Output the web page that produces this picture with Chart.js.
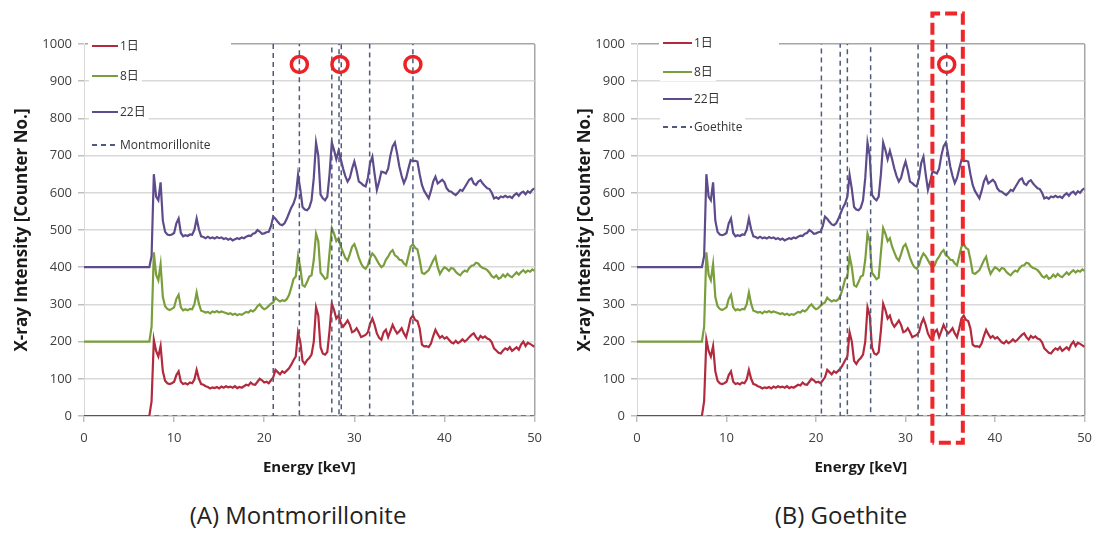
<!DOCTYPE html>
<html>
<head>
<meta charset="utf-8">
<script src="https://cdn.jsdelivr.net/npm/chart.js@4.4.1/dist/chart.umd.min.js"></script>
<style>
  html, body { margin: 0; padding: 0; background: #fff; }
  body { width: 1100px; height: 534px; position: relative; overflow: hidden; }
  canvas { position: absolute; top: 0; }
  #chartA { left: 0; }
  #chartB { left: 553px; }
  .caption {
    position: absolute; top: 498px; width: 400px; text-align: center;
    font-family: "Open Sans", sans-serif; font-size: 24px; line-height: 34px; color: #222;
  }
</style>
</head>
<body>
<canvas id="chartA" width="550" height="490"></canvas>
<canvas id="chartB" width="547" height="490"></canvas>
<div class="caption" style="left: 98px;">(A) Montmorillonite</div>
<div class="caption" style="left: 641px;">(B) Goethite</div>
<script>
// energy channels (keV)
const energy = [
  0, 7.25, 7.5, 7.75,
  8, 8.25, 8.5, 8.75,   9, 9.25, 9.5, 9.75,   10, 10.25, 10.5, 10.75,
  11, 11.25, 11.5, 11.75,   12, 12.25, 12.5, 12.75,   13, 13.25, 13.5, 13.75,
  14, 14.25, 14.5, 14.75,   15, 15.25, 15.5, 15.75,   16, 16.25, 16.5, 16.75,
  17, 17.25, 17.5, 17.75,   18, 18.25, 18.5, 18.75,   19, 19.25, 19.5, 19.75,
  20, 20.25, 20.5, 20.75,   21, 21.25, 21.5, 21.75,   22, 22.25, 22.5, 22.75,
  23, 23.25, 23.5, 23.75,   24, 24.25, 24.5, 24.75,   25, 25.25, 25.5, 25.75,
  26, 26.25, 26.5, 26.75,   27, 27.25, 27.5, 27.75,   28, 28.25, 28.5, 28.75,
  29, 29.25, 29.5, 29.75,   30, 30.25, 30.5, 30.75,   31, 31.25, 31.5, 31.75,
  32, 32.25, 32.5, 32.75,   33, 33.25, 33.5, 33.75,   34, 34.25, 34.5, 34.75,
  35, 35.25, 35.5, 35.75,   36, 36.25, 36.5, 36.75,   37, 37.25, 37.5, 37.75,
  38, 38.25, 38.5, 38.75,   39, 39.25, 39.5, 39.75,   40, 40.25, 40.5, 40.75,
  41, 41.25, 41.5, 41.75,   42, 42.25, 42.5, 42.75,   43, 43.25, 43.5, 43.75,
  44, 44.25, 44.5, 44.75,   45, 45.25, 45.5, 45.75,   46, 46.25, 46.5, 46.75,
  47, 47.25, 47.5, 47.75,   48, 48.25, 48.5, 48.75,   49, 49.25, 49.5, 49.75,
  50
];

// counts, 1 day
const day1 = [
  0, 0, 40, 205,
  175, 160, 188, 120,   95, 88, 86, 88,   92, 110, 120, 92,
  86, 88, 85, 90,   88, 98, 124, 100,   86, 84, 80, 78,
  74, 77, 75, 78,   74, 79, 76, 80,   77, 79, 76, 80,
  75, 78, 76, 80,   84, 82, 90, 85,   84, 92, 100, 96,
  90, 92, 88, 96,   104, 124, 118, 112,   120, 116, 122, 128,
  138, 150, 160, 225,   200, 148, 140, 150,   156, 165, 200, 292,
  270, 185, 168, 165,   172, 230, 302, 285,   262, 270, 250, 240,
  248, 257, 245, 225,   228, 236, 225, 212,   215, 218, 225, 248,
  262, 245, 222, 210,   205, 225, 232, 212,   228, 245, 232, 222,
  228, 236, 222, 212,   235, 262, 270, 258,   255, 235, 192, 187,
  188, 185, 195, 215,   232, 220, 210, 215,   208, 212, 205, 198,
  195, 202, 196, 200,   206, 200, 205, 212,   218, 222, 212, 205,
  215, 210, 214, 208,   206, 198, 182, 176,   170, 168, 176, 182,
  178, 185, 175, 180,   185, 178, 192, 200,   188, 197, 194, 190,
  186
];

// counts, 8 days
const day8 = [
  200, 200, 240, 440,
  380, 365, 408, 320,   295, 288, 285, 288,   292, 315, 326, 292,
  284, 287, 284, 288,   287, 300, 332, 302,   283, 281, 278, 280,
  276, 281, 279, 282,   278, 281, 279, 277,   274, 276, 272, 275,
  271, 274, 272, 276,   280, 278, 284, 281,   286, 295, 300, 292,
  287, 290, 296, 302,   305, 318, 312, 308,   311, 309, 314, 325,
  345, 368, 375, 430,   400, 352, 348, 360,   375, 378, 420, 490,
  470, 385, 377, 368,   372, 440, 505, 490,   470, 478, 455, 440,
  425, 418, 435, 455,   462, 445, 425, 410,   400, 396, 405, 425,
  437, 430, 419, 408,   400, 405, 420, 428,   440, 446, 432, 428,
  420, 419, 410, 405,   430, 455, 462, 452,   448, 420, 385, 382,
  387, 392, 405, 418,   428, 400, 382, 392,   400, 396, 390, 398,
  396, 388, 382, 378,   386, 391, 388, 398,   404, 405, 412, 410,
  402, 398, 396, 392,   385, 376, 372, 378,   369, 372, 380, 374,
  382, 376, 373, 380,   386, 380, 387, 392,   386, 391, 388, 394,
  390
];

// counts, 22 days
const day22 = [
  400, 400, 430, 650,
  590, 580, 628, 525,   495, 488, 486, 488,   492, 518, 531, 492,
  483, 486, 484, 488,   487, 500, 531, 502,   483, 481, 478, 482,
  478, 480, 477, 481,   478, 480, 476, 478,   474, 477, 472, 475,
  478, 476, 480, 478,   482, 485, 484, 490,   492, 500, 496, 490,
  491, 494, 495, 510,   536, 530, 522, 515,   513, 518, 530, 545,
  560, 571, 590, 648,   610, 562, 555, 553,   560, 580, 640, 735,
  700, 595, 585, 580,   590, 650, 735, 715,   690, 713, 690, 665,
  645, 630, 640, 665,   684, 660, 630, 626,   620, 617, 640, 680,
  697, 650, 608, 630,   657, 655, 652, 665,   700, 725, 735, 705,
  670, 645, 626, 640,   665, 688, 685, 686,   684, 650, 621, 605,
  595, 585, 605, 630,   643, 625, 630, 635,   628, 612, 605, 603,
  598, 594, 600, 608,   605, 615, 625, 635,   639, 625, 621, 630,
  634, 625, 618, 612,   610, 600, 585, 588,   584, 590, 588, 592,
  588, 590, 586, 594,   599, 592, 600, 603,   596, 604, 600, 608,
  612
];

// reference peak positions (keV)
const montmorilloniteLines = [21.0, 23.9, 27.5, 28.3, 28.55, 31.7, 36.5];
const goethiteLines = [20.6, 22.7, 23.5, 26.1, 31.4, 34.6];
const stickStart = 7.8;
const stickTop = 1000;

// red circle marks
const montmorilloniteMarks = [23.9, 28.4, 36.5];
const goethiteMarks = [34.6];
const markLevel = 945;

// red dashed box on goethite panel
const boxFrom = 33.0, boxTo = 36.4, boxLow = -72, boxHigh = 1082;

const seriesLabels = ['1日', '8日', '22日'];
const seriesColors = ['#b22a3e', '#7a9e3c', '#5e4b8b'];
const FONT = '"Open Sans", "Noto Sans CJK JP", sans-serif';

const toPoints = ys => energy.map((x, i) => ({ x: x, y: ys[i] }));

function stickPoints(lines) {
  const pts = [{ x: stickStart, y: 0 }];
  lines.forEach(e => {
    pts.push({ x: e, y: 0 }, { x: e, y: stickTop }, { x: e, y: null }, { x: e, y: 0 });
  });
  pts.push({ x: 50, y: 0 });
  return pts;
}

const insideLegend = {
  id: 'insideLegend',
  beforeDatasetsDraw(chart, args, opts) {
    const ctx = chart.ctx;
    const left = chart.chartArea.left, top = chart.chartArea.top;
    ctx.save();
    ctx.font = '12px ' + FONT;
    // white legend background over the top border
    ctx.fillStyle = '#fff';
    ctx.fillRect(left + opts.x - 4, top - 3, opts.maskWidth, 6);
    const items = chart.data.datasets.filter(d => d.inLegend);
    items.forEach((ds, i) => {
      const y = top + opts.rows[i];
      const x0 = left + opts.x;
      const tw = ctx.measureText(ds.label).width;
      ctx.fillStyle = '#fff';
      ctx.fillRect(x0 - 3, y - 9, opts.sample + 8 + tw, 18);
      ctx.strokeStyle = ds.borderColor;
      ctx.lineWidth = 2;
      ctx.setLineDash(ds.borderDash || []);
      ctx.beginPath();
      ctx.moveTo(x0, y);
      ctx.lineTo(x0 + opts.sample, y);
      ctx.stroke();
      ctx.setLineDash([]);
      ctx.fillStyle = '#333';
      ctx.textBaseline = 'middle';
      ctx.fillText(ds.label, x0 + opts.sample + 2, y + 1);
    });
    ctx.restore();
  }
};

function makeChart(id, refLabel, refLines, marks, withBox, layoutOpts) {
  const datasets = [];
  if (withBox) {
    datasets.push({
      label: 'box', data: [
        { x: boxFrom, y: boxLow }, { x: boxFrom, y: boxHigh }, { x: boxTo, y: boxHigh },
        { x: boxTo, y: boxLow }, { x: boxFrom, y: boxLow }
      ],
      borderColor: '#f0262a', borderWidth: 4, borderDash: [12, 5], pointRadius: 0,
      clip: false, order: 0
    });
  }
  datasets.push({
    label: 'marks', data: marks.map(x => ({ x: x, y: markLevel })),
    showLine: false, pointRadius: 8, pointBorderWidth: 3.5, pointBorderColor: '#ec2227',
    pointBackgroundColor: 'rgba(255,255,255,0)', order: 0
  });
  [day1, day8, day22].forEach((ys, i) => {
    datasets.push({
      label: seriesLabels[i], data: toPoints(ys), inLegend: true,
      borderColor: seriesColors[i], borderWidth: 2.2, pointRadius: 0, order: 4 - i
    });
  });
  datasets.push({
    label: refLabel, data: stickPoints(refLines), inLegend: true,
    borderColor: '#4f5a7c', borderWidth: 1.5, borderDash: [5, 4], pointRadius: 0,
    spanGaps: false, order: 1
  });

  return new Chart(document.getElementById(id), {
    type: 'line',
    data: { datasets: datasets },
    options: {
      responsive: false,
      animation: false,
      layout: { padding: { left: 0, right: layoutOpts.right, top: 44, bottom: 0 } },
      plugins: {
        legend: { display: false },
        tooltip: { enabled: false },
        insideLegend: layoutOpts.legend
      },
      scales: {
        x: {
          type: 'linear', min: 0, max: 50,
          ticks: { stepSize: 10, color: '#404040', font: { family: FONT, size: 13 }, padding: 8,
                   callback: v => String(v) },
          grid: {
            color: c => (c.tick && c.tick.value === 50 ? '#a6a6a6' : 'rgba(0,0,0,0)'),
            lineWidth: 1.5, tickLength: 6, tickColor: '#bfbfbf'
          },
          border: { color: '#bfbfbf', width: 1.5 },
          title: {
            display: true, text: 'Energy [keV]', color: '#1a1a1a',
            font: { family: FONT, size: 15, weight: 'bold' }, padding: { top: 0, bottom: 13 }
          },
          afterFit: s => { s.height = 74; }
        },
        y: {
          min: 0, max: 1000,
          ticks: { stepSize: 100, color: '#404040', font: { family: FONT, size: 13 }, padding: 6,
                   callback: v => String(v) },
          grid: {
            color: c => (c.tick && c.tick.value === 1000 ? '#a6a6a6' : '#d9d9d9'),
            lineWidth: 1.5, tickLength: 6, tickColor: '#bfbfbf'
          },
          border: { color: '#d9d9d9', width: 1 },
          title: {
            display: true, text: 'X-ray Intensity [Counter No.]', color: '#1a1a1a',
            font: { family: FONT, size: 17, weight: 'bold' },
            padding: { top: layoutOpts.titlePad, bottom: 0 }
          },
          afterFit: s => { s.width = 84; }
        }
      }
    },
    plugins: [insideLegend]
  });
}

makeChart('chartA', 'Montmorillonite', montmorilloniteLines, montmorilloniteMarks, false, {
  right: 15, titlePad: 12,
  legend: { x: 8, sample: 26, rows: [2, 32, 68, 101], maskWidth: 143 }
});
makeChart('chartB', 'Goethite', goethiteLines, goethiteMarks, true, {
  right: 13, titlePad: 22,
  legend: { x: 26, sample: 29, rows: [-1, 28, 55, 83], maskWidth: 120 }
});
</script>
</body>
</html>
